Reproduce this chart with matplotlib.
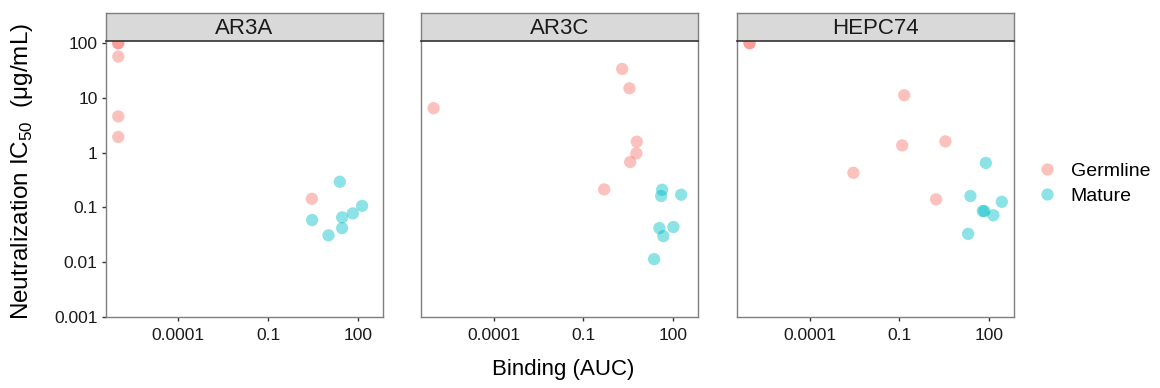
"""Neutralization IC50 vs binding AUC, one panel per antibody."""

import matplotlib
matplotlib.use("Agg")
import matplotlib.pyplot as plt
from matplotlib.lines import Line2D

plt.rcParams["font.family"] = ["Liberation Sans", "DejaVu Sans"]

PANELS = ["AR3A", "AR3C", "HEPC74"]
GROUPS = ["Germline", "Mature"]
COLORS = {"Germline": "#F8766D", "Mature": "#00BFC4"}

# binding AUC (x) and IC50 in ug/mL (y)
ar3a_germline_x = [1e-6, 1e-6, 1e-6, 1e-6, 1e-6, 2.86]
ar3a_germline_y = [100, 100, 57, 4.6, 1.94, 0.144]
ar3a_mature_x = [24.5, 2.93, 10.3, 29.3, 29.3, 66.6, 136]
ar3a_mature_y = [0.295, 0.059, 0.031, 0.066, 0.042, 0.078, 0.107]

ar3c_germline_x = [1e-6, 1.95, 3.41, 6.0, 5.8, 3.6, 0.49]
ar3c_germline_y = [6.5, 33.9, 15, 1.59, 0.975, 0.676, 0.214]
ar3c_mature_x = [42, 39, 181, 34, 100, 46, 22.7]
ar3c_mature_y = [0.211, 0.162, 0.171, 0.042, 0.044, 0.030, 0.0114]

hepc74_germline_x = [1e-6, 1e-6, 0.144, 0.123, 3.41, 0.0029, 1.67]
hepc74_germline_y = [100, 100, 11.2, 1.36, 1.61, 0.43, 0.141]
hepc74_mature_x = [76, 23.3, 259, 60, 68, 136, 19.5]
hepc74_mature_y = [0.65, 0.162, 0.127, 0.086, 0.086, 0.072, 0.033]

X_TICKS = [1e-4, 0.1, 100]
X_TICK_LABELS = ["0.0001", "0.1", "100"]
Y_TICKS = [0.001, 0.01, 0.1, 1, 10, 100]
Y_TICK_LABELS = ["0.001", "0.01", "0.1", "1", "10", "100"]

DATA = {
    "AR3A": {"Germline": (ar3a_germline_x, ar3a_germline_y),
             "Mature": (ar3a_mature_x, ar3a_mature_y)},
    "AR3C": {"Germline": (ar3c_germline_x, ar3c_germline_y),
             "Mature": (ar3c_mature_x, ar3c_mature_y)},
    "HEPC74": {"Germline": (hepc74_germline_x, hepc74_germline_y),
               "Mature": (hepc74_mature_x, hepc74_mature_y)},
}

FIG_W, FIG_H = 1160, 388
PANEL_LEFTS = [106, 421.3, 737.3]   # pixels
PANEL_WIDTH = 277
PANEL_TOP, PANEL_BOTTOM = 41, 317
STRIP_TOP = 13
BORDER = "#7f7f7f"


def px_box(left, top, width, height):
    """Pixel box (from top-left) to figure fraction rect"""
    return [left / FIG_W, (FIG_H - top - height) / FIG_H, width / FIG_W, height / FIG_H]


fig = plt.figure(figsize=(FIG_W / 100, FIG_H / 100), dpi=100)

for i, name in enumerate(PANELS):
    left = PANEL_LEFTS[i]
    ax = fig.add_axes(px_box(left, PANEL_TOP, PANEL_WIDTH, PANEL_BOTTOM - PANEL_TOP))
    for group in GROUPS:
        xs, ys = DATA[name][group]
        ax.scatter(xs, ys, s=78, color=COLORS[group], alpha=0.45,
                   edgecolors="none", zorder=3)
    ax.set_xscale("log")
    ax.set_yscale("log")
    ax.set_xlim(10 ** -6.41, 10 ** 2.83)
    ax.set_ylim(0.001, 10 ** 2.04)
    ax.set_xticks(X_TICKS)
    ax.set_xticklabels(X_TICK_LABELS)
    ax.minorticks_off()
    if i == 0:
        ax.set_yticks(Y_TICKS)
        ax.set_yticklabels(Y_TICK_LABELS)
    else:
        ax.set_yticks([])
    ax.tick_params(axis="both", length=3, width=1, color="#333333",
                   labelsize=12.5, labelcolor="#1a1a1a", pad=3)
    ax.tick_params(axis="x", pad=5)
    for side in ["left", "right", "bottom"]:
        ax.spines[side].set_color(BORDER)
        ax.spines[side].set_linewidth(1)
    ax.spines["top"].set_visible(False)

    # facet strip
    strip = fig.add_axes(px_box(left, STRIP_TOP, PANEL_WIDTH, PANEL_TOP - STRIP_TOP))
    strip.set_facecolor("#D9D9D9")
    strip.set_xticks([])
    strip.set_yticks([])
    for side in ["left", "right", "top"]:
        strip.spines[side].set_color(BORDER)
        strip.spines[side].set_linewidth(1)
    strip.spines["bottom"].set_color("#333333")
    strip.spines["bottom"].set_linewidth(1.2)
    strip.text(0.5, 0.45, name, ha="center", va="center", fontsize=16,
               color="#1a1a1a", transform=strip.transAxes)

fig.text(563 / FIG_W, 1 - 370 / FIG_H, "Binding (AUC)", ha="center", va="center",
         fontsize=16)
fig.text(22 / FIG_W, 1 - 171 / FIG_H,
         r"Neutralization IC$_{\mathregular{50}}$  (μg/mL)",
         ha="center", va="center", rotation=90, fontsize=17.5)

handles = [Line2D([], [], marker="o", linestyle="none", markersize=8.8,
                  markerfacecolor=COLORS[g], markeredgecolor="none", alpha=0.45)
           for g in GROUPS]
fig.legend(handles, GROUPS, loc="center left",
           bbox_to_anchor=(1026 / FIG_W, 1 - 183.5 / FIG_H), frameon=False,
           fontsize=14, handletextpad=0.6, labelspacing=0.4, handlelength=1.2,
           borderpad=0)

fig.savefig("out.png", dpi=100)
